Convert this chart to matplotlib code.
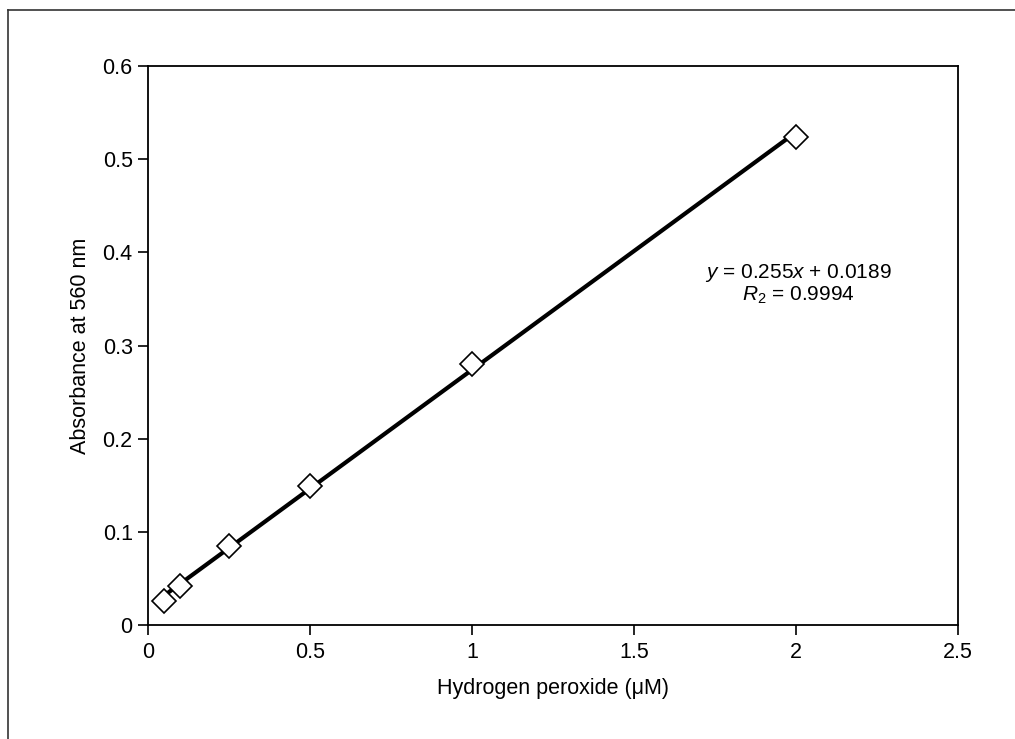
import numpy as np
import matplotlib.pyplot as plt
from matplotlib.lines import Line2D

plt.rcParams['font.family'] = ['Liberation Sans', 'DejaVu Sans']
plt.rcParams['mathtext.fontset'] = 'custom'
plt.rcParams['mathtext.it'] = 'Liberation Sans:italic'
plt.rcParams['mathtext.rm'] = 'Liberation Sans'

# dados
conc = [0.05, 0.1, 0.25, 0.5, 1.0, 2.0]
absorb = [0.026, 0.042, 0.085, 0.149, 0.280, 0.524]
slope, intercept = 0.255, 0.0189
xticks = [0, 0.5, 1, 1.5, 2, 2.5]
xlabels = ['0', '0.5', '1', '1.5', '2', '2.5']
yticks = [0, 0.1, 0.2, 0.3, 0.4, 0.5, 0.6]
ylabels = ['0', '0.1', '0.2', '0.3', '0.4', '0.5', '0.6']

W, H = 1015, 739
fig = plt.figure(figsize=(W / 100, H / 100), dpi=100)
ax = fig.add_axes([148 / W, 1 - 625 / H, (958 - 148) / W, (625 - 66) / H])

# reta de regressão
xf = np.array([conc[0], conc[-1]])
ax.plot(xf, slope * xf + intercept, color='black', lw=3, zorder=2)
ax.plot(conc, absorb, linestyle='none', marker='D', markersize=12,
        markerfacecolor='white', markeredgecolor='black', markeredgewidth=1.2, zorder=3)

ax.set_xlim(0, 2.5)
ax.set_ylim(0, 0.6)
ax.set_xticks(xticks)
ax.set_xticklabels(xlabels)
ax.set_yticks(yticks)
ax.set_yticklabels(ylabels)
ax.tick_params(direction='out', length=7, width=1.2, labelsize=15.5, pad=4)
ax.tick_params(axis='x', pad=5)
for s in ax.spines.values():
    s.set_linewidth(1.3)

ax.set_xlabel('Hydrogen peroxide (\u03bcM)', fontsize=15.5, labelpad=11)
ax.set_ylabel('Absorbance at 560 nm', fontsize=15.5, labelpad=8)

ax.text(2.006, 0.366, '$\\mathit{y}$ = 0.255$\\mathit{x}$ + 0.0189\n$\\mathit{R}_2$ = 0.9994',
        ha='center', va='center', fontsize=15, linespacing=1.1)

# moldura externa (só topo e esquerda)
fig.add_artist(Line2D([8 / W, 1], [1 - 10 / H, 1 - 10 / H], color='#333333', lw=1.2))
fig.add_artist(Line2D([8 / W, 8 / W], [0, 1 - 10 / H], color='#333333', lw=1.2))

fig.savefig('out.png', dpi=100)
